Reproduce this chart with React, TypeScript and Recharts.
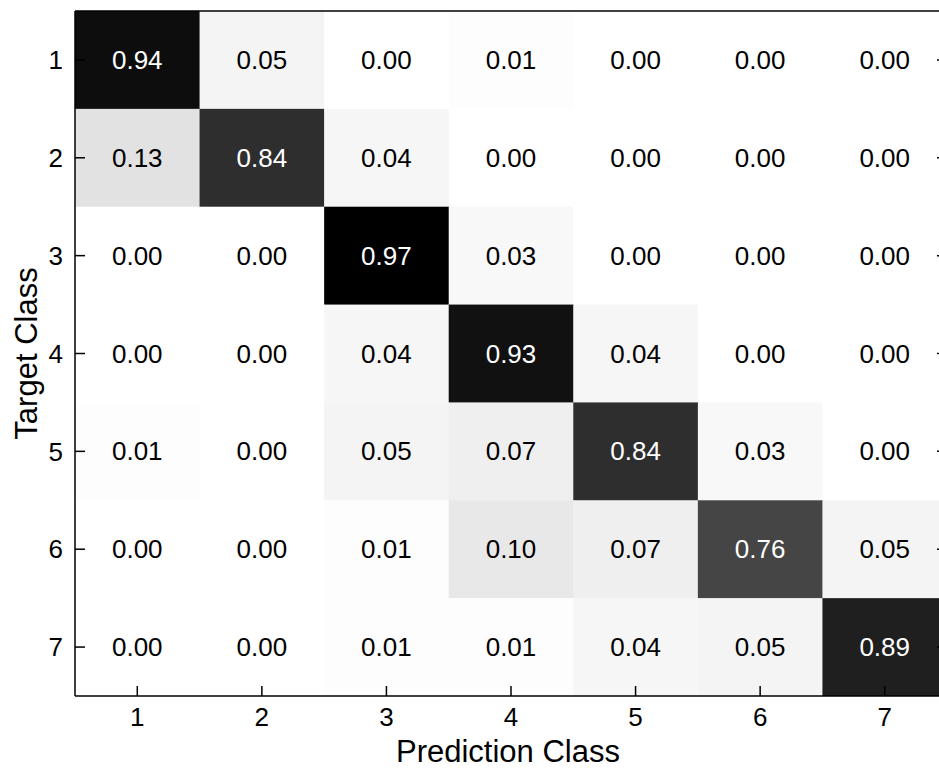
import { ScatterChart, Scatter, XAxis, YAxis } from "recharts"

const classes = [1, 2, 3, 4, 5, 6, 7]

// rows = target class, columns = predicted class
const row1 = [0.94, 0.05, 0.0, 0.01, 0.0, 0.0, 0.0]
const row2 = [0.13, 0.84, 0.04, 0.0, 0.0, 0.0, 0.0]
const row3 = [0.0, 0.0, 0.97, 0.03, 0.0, 0.0, 0.0]
const row4 = [0.0, 0.0, 0.04, 0.93, 0.04, 0.0, 0.0]
const row5 = [0.01, 0.0, 0.05, 0.07, 0.84, 0.03, 0.0]
const row6 = [0.0, 0.0, 0.01, 0.1, 0.07, 0.76, 0.05]
const row7 = [0.0, 0.0, 0.01, 0.01, 0.04, 0.05, 0.89]
const matrix = [row1, row2, row3, row4, row5, row6, row7]

const cells = matrix.flatMap((row, r) =>
    row.map((value, c) => ({ pred: classes[c], target: classes[r], value }))
)
const maxValue = Math.max(...cells.map((d) => d.value))

const shade = (v: number) => {
    const g = Math.round(255 * Math.pow(1 - v / maxValue, 0.85))
    return `rgb(${g},${g},${g})`
}

const FONT = "'Liberation Sans', Arial, sans-serif"

const CHART_W = 960
const CHART_H = 770
// top/right axes are 1px wide so they still get drawn (a 0 size axis is skipped)
const MARGIN = { top: 10, right: 12, left: 0, bottom: 0 }
const Y_AXIS_W = 75
const X_AXIS_H = 74
const PLOT_W = CHART_W - MARGIN.left - MARGIN.right - Y_AXIS_W - 1
const PLOT_H = CHART_H - MARGIN.top - MARGIN.bottom - X_AXIS_H - 1
const cellW = PLOT_W / classes.length
const cellH = PLOT_H / classes.length

const CellShape = (props: any) => {
    const { cx, cy, payload } = props
    const v = payload.value
    return (
        <g>
            <rect x={cx - cellW / 2} y={cy - cellH / 2} width={cellW + 0.5} height={cellH + 0.5} fill={shade(v)} />
            <text
                x={cx}
                y={cy}
                textAnchor="middle"
                dominantBaseline="central"
                fill={v > 0.5 ? "#fff" : "#000"}
                fontSize={26}
                fontFamily={FONT}
            >
                {v.toFixed(2)}
            </text>
        </g>
    )
}

const XTitle = ({ viewBox }: any) => (
    <text x={viewBox.x + viewBox.width / 2 - 3} y={762} textAnchor="middle" fontSize={31} fontFamily={FONT} fill="#000">
        Prediction Class
    </text>
)

const YTitle = ({ viewBox }: any) => {
    const cy = viewBox.y + viewBox.height / 2
    return (
        <text x={37} y={cy} transform={`rotate(-90, 37, ${cy})`} textAnchor="middle" fontSize={31} fontFamily={FONT} fill="#000">
            Target Class
        </text>
    )
}

const tickStyle = { fill: "#000", fontSize: 26, fontFamily: FONT }
const lineStyle = { stroke: "#000", strokeWidth: 1.5 }

export default function App() {
    return (
        <div style={{ position: "fixed", left: 0, top: 0, width: 939, height: 770, overflow: "hidden", background: "#fff" }}>
            <ScatterChart width={CHART_W} height={CHART_H} margin={MARGIN}>
                <Scatter data={cells} shape={CellShape} isAnimationActive={false} zIndex={100} />
                <XAxis
                    dataKey="pred"
                    type="number"
                    domain={[0.5, 7.5]}
                    ticks={classes}
                    allowDataOverflow
                    height={X_AXIS_H}
                    tickSize={-10}
                    tickMargin={22}
                    tick={tickStyle}
                    axisLine={lineStyle}
                    tickLine={lineStyle}
                    label={{ content: XTitle }}
                />
                <XAxis
                    xAxisId="top"
                    orientation="top"
                    type="number"
                    domain={[0.5, 7.5]}
                    ticks={classes}
                    allowDataOverflow
                    height={1}
                    tickSize={-10}
                    tickFormatter={() => ""}
                    axisLine={lineStyle}
                    tickLine={lineStyle}
                />
                <YAxis
                    dataKey="target"
                    type="number"
                    domain={[0.5, 7.5]}
                    ticks={classes}
                    reversed
                    allowDataOverflow
                    width={Y_AXIS_W}
                    tickSize={-10}
                    tickMargin={22}
                    tick={tickStyle}
                    axisLine={lineStyle}
                    tickLine={lineStyle}
                    label={{ content: YTitle }}
                />
                <YAxis
                    yAxisId="right"
                    orientation="right"
                    type="number"
                    domain={[0.5, 7.5]}
                    ticks={classes}
                    reversed
                    allowDataOverflow
                    width={1}
                    tickSize={-10}
                    tickFormatter={() => ""}
                    axisLine={lineStyle}
                    tickLine={lineStyle}
                />
            </ScatterChart>
        </div>
    )
}
